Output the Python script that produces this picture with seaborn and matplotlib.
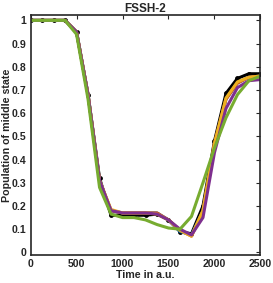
import numpy as np
import pandas as pd
import seaborn as sns
import matplotlib
matplotlib.use("Agg")
import matplotlib.pyplot as plt

# time grid (a.u.)
time = [0, 125, 250, 375, 500, 625, 750, 875, 1000, 1125, 1250, 1375,
        1500, 1625, 1750, 1875, 2000, 2125, 2250, 2375, 2500]

# population of middle state, one list per run
black = [1, 1, 1, 1, 0.95, 0.68, 0.32, 0.16, 0.16, 0.16, 0.16, 0.165,
         0.14, 0.09, 0.08, 0.20, 0.48, 0.685, 0.75, 0.77, 0.77]
blue = [1, 1, 1, 1, 0.95, 0.68, 0.31, 0.18, 0.17, 0.17, 0.17, 0.17,
        0.14, 0.09, 0.075, 0.18, 0.46, 0.66, 0.73, 0.755, 0.76]
red = [1, 1, 1, 1, 0.95, 0.68, 0.31, 0.18, 0.17, 0.17, 0.17, 0.17,
       0.14, 0.095, 0.07, 0.18, 0.47, 0.66, 0.73, 0.755, 0.76]
yellow = [1, 1, 1, 1, 0.95, 0.68, 0.31, 0.185, 0.17, 0.17, 0.17, 0.165,
          0.14, 0.095, 0.07, 0.18, 0.47, 0.665, 0.735, 0.755, 0.76]
purple = [1, 1, 1, 1, 0.95, 0.68, 0.31, 0.18, 0.17, 0.17, 0.17, 0.165,
          0.14, 0.10, 0.075, 0.15, 0.43, 0.62, 0.71, 0.74, 0.745]
green = [1, 1, 1, 1, 0.94, 0.66, 0.28, 0.165, 0.15, 0.15, 0.14, 0.12,
         0.105, 0.10, 0.155, 0.30, 0.45, 0.58, 0.68, 0.74, 0.76]

series = {"black": black, "blue": blue, "red": red,
          "yellow": yellow, "purple": purple, "green": green}
colors = {"black": "black", "blue": "#0072BD", "red": "#D95319",
          "yellow": "#EDB120", "purple": "#7E2F8E", "green": "#77AC30"}

rows = []
for name, vals in series.items():
    for t, v in zip(time, vals):
        rows.append({"time": t, "pop": v, "run": name})
df = pd.DataFrame(rows)

sns.set_style("white")
plt.rcParams["font.family"] = ["Liberation Sans", "DejaVu Sans"]
plt.rcParams["font.weight"] = "bold"

fig = plt.figure(figsize=(2.73, 2.83), dpi=100)
ax = fig.add_axes([0.112, 0.1, 0.842, 0.846])

for name in series:
    d = df[df["run"] == name]
    sns.lineplot(data=d, x="time", y="pop", ax=ax, color=colors[name],
                 linewidth=2.2, marker="o" if name == "black" else None,
                 markersize=3.5, markeredgewidth=0)

ax.set_xlim(0, 2500)
ax.set_ylim(-0.01, 1.022)
ax.set_xticks([0, 500, 1000, 1500, 2000, 2500])
ax.set_yticks(np.arange(0, 1.01, 0.1))
ax.set_yticklabels(["0", "0.1", "0.2", "0.3", "0.4", "0.5", "0.6", "0.7",
                    "0.8", "0.9", "1"])
ax.tick_params(direction="in", length=3, width=0.8, labelsize=7.6,
               top=True, right=True, pad=3)
for lab in ax.get_xticklabels() + ax.get_yticklabels():
    lab.set_fontweight("bold")
for s in ax.spines.values():
    s.set_linewidth(1.2)
    s.set_color("#262626")

ax.set_title("FSSH-2", fontsize=8.5, fontweight="bold", pad=2.5)
ax.set_xlabel("Time in a.u.", fontsize=7.7, fontweight="bold", labelpad=1)
ax.set_ylabel("Population of middle state", fontsize=7.7, fontweight="bold")
ax.yaxis.set_label_coords(-0.08, 0.5)

fig.savefig("out.png", dpi=100)
